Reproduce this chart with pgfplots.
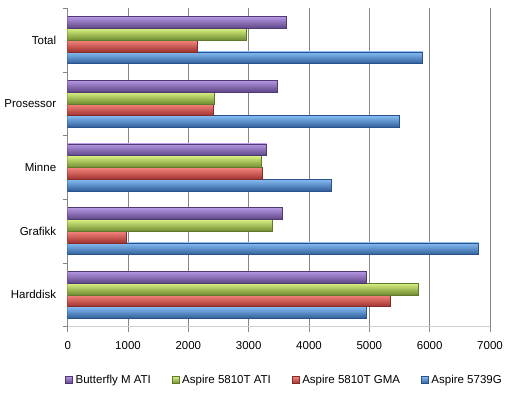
\documentclass[border=0pt]{standalone}
\usepackage{fontspec}
\setmainfont{Liberation Sans}
\usepackage{pgfplots}
\pgfplotsset{compat=1.18}
\definecolor{bluetop}{HTML}{86BDF4}
\definecolor{bluemid}{HTML}{4A88D0}
\definecolor{bluebot}{HTML}{2F5E98}
\definecolor{blueedge}{HTML}{2A5188}
\definecolor{redtop}{HTML}{F8857F}
\definecolor{redmid}{HTML}{D9514D}
\definecolor{redbot}{HTML}{9E3330}
\definecolor{rededge}{HTML}{832B29}
\definecolor{greentop}{HTML}{DAF283}
\definecolor{greenmid}{HTML}{9DC24E}
\definecolor{greenbot}{HTML}{6F8C30}
\definecolor{greenedge}{HTML}{5F7A2A}
\definecolor{purptop}{HTML}{B797E4}
\definecolor{purpmid}{HTML}{8A66B8}
\definecolor{purpbot}{HTML}{5E4585}
\definecolor{purpedge}{HTML}{4E3A70}
\definecolor{gridgray}{HTML}{868686}
\definecolor{axgray}{HTML}{D0D0D0}
\pgfplotsset{
  mybar/.style={xbar, bar width=0.1845, line width=0.5bp,
    legend image code/.code={\draw[##1,line width=0.4bp] (0bp,-3.5bp) rectangle (7bp,3.5bp);}},
  sblue/.style={mybar, bar shift=-0.277, draw=blueedge, top color=bluetop, middle color=bluemid, bottom color=bluebot},
  sred/.style={mybar, bar shift=-0.0923, draw=rededge, top color=redtop, middle color=redmid, bottom color=redbot},
  sgreen/.style={mybar, bar shift=0.0923, draw=greenedge, top color=greentop, middle color=greenmid, bottom color=greenbot},
  spurp/.style={mybar, bar shift=0.277, draw=purpedge, top color=purptop, middle color=purpmid, bottom color=purpbot},
}
\begin{document}
\begin{tikzpicture}
\path[use as bounding box] (0,0) rectangle (512bp,397bp);
\begin{axis}[
  at={(67.7bp,70.3bp)}, anchor=south west,
  scale only axis, width=422.3bp, height=318.4bp,
  xmin=0, xmax=7000, ymin=-0.5, ymax=4.5,
  font=\fontsize{11.5bp}{13bp}\selectfont,
  /pgf/number format/assume math mode=true,
  scaled x ticks=false,
  xticklabel style={/pgf/number format/1000 sep={}},
  xtick={0,1000,...,7000},
  ytick={-0.5,0.5,...,4.5},
  yticklabels={},
  extra y ticks={0,1,2,3,4},
  extra y tick labels={Harddisk,Grafikk,Minne,Prosessor,Total},
  extra y tick style={major tick length=0pt, ymajorgrids=false},
  tick align=outside,
  major tick length=5bp,
  tick style={gridgray, line width=0.8bp},
  xmajorgrids,
  major grid style={gridgray, line width=0.8bp},
  axis x line*=bottom,
  axis y line*=left,
  x axis line style={axgray, line width=0.8bp, -},
  y axis line style={gridgray, line width=0.8bp, -},
  yticklabel style={xshift=-8bp},
  xticklabel style={yshift=-6bp},
  reverse legend,
  legend columns=4,
  legend style={at={(axis description cs:0.5146,-0.1674)}, anchor=center,
    draw=none, fill=none, font=\fontsize{11.5bp}{13bp}\selectfont,
    /tikz/every even column/.append style={column sep=18bp},
    nodes={inner xsep=3bp}},
]
% Aspire 5739G
\addplot[sblue] coordinates {(4944,0)};
\addlegendentry{Aspire 5739G}
\addplot[sblue, forget plot] coordinates {(6812,1)};
\addplot[sblue, forget plot] coordinates {(4376,2)};
\addplot[sblue, forget plot] coordinates {(5497,3)};
\addplot[sblue, forget plot] coordinates {(5884,4)};
% Aspire 5810T GMA
\addplot[sred] coordinates {(5354,0)};
\addlegendentry{Aspire 5810T GMA}
\addplot[sred, forget plot] coordinates {(978,1)};
\addplot[sred, forget plot] coordinates {(3232,2)};
\addplot[sred, forget plot] coordinates {(2414,3)};
\addplot[sred, forget plot] coordinates {(2155,4)};
% Aspire 5810T ATI
\addplot[sgreen] coordinates {(5818,0)};
\addlegendentry{Aspire 5810T ATI}
\addplot[sgreen, forget plot] coordinates {(3398,1)};
\addplot[sgreen, forget plot] coordinates {(3215,2)};
\addplot[sgreen, forget plot] coordinates {(2430,3)};
\addplot[sgreen, forget plot] coordinates {(2967,4)};
% Butterfly M ATI
\addplot[spurp] coordinates {(4956,0)};
\addlegendentry{Butterfly M ATI}
\addplot[spurp, forget plot] coordinates {(3563,1)};
\addplot[spurp, forget plot] coordinates {(3298,2)};
\addplot[spurp, forget plot] coordinates {(3475,3)};
\addplot[spurp, forget plot] coordinates {(3630,4)};
\end{axis}
\end{tikzpicture}
\end{document}
